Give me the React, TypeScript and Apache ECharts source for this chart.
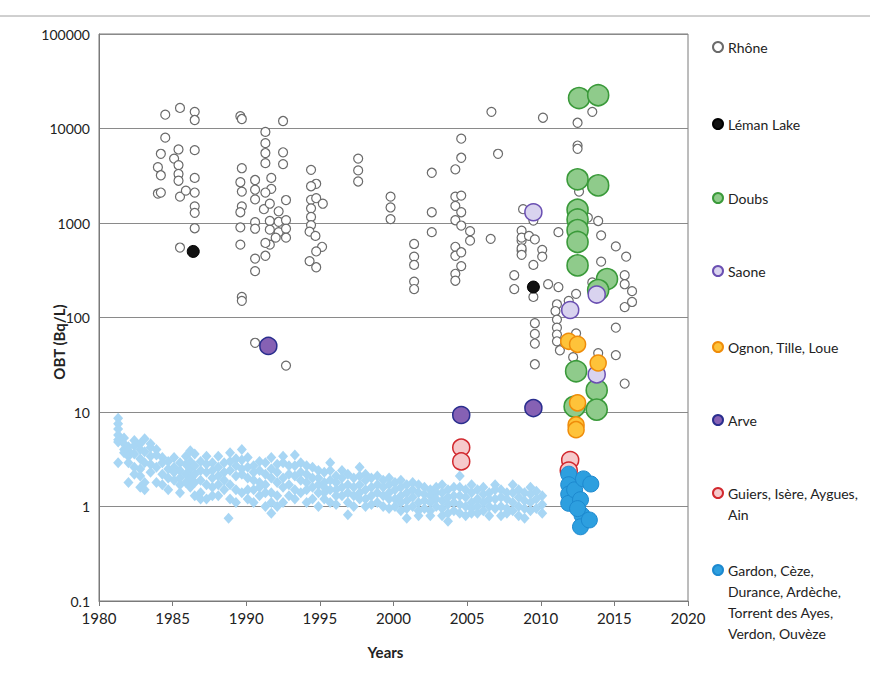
import React, { useEffect, useRef } from "react";
import * as echarts from "echarts";

// ---- Axis ticks ----
const xTicks = [1980, 1985, 1990, 1995, 2000, 2005, 2010, 2015, 2020];
const yTicks = [0.1, 1, 10, 100, 1000, 10000, 100000];

// ---- Series names (legend) ----
const seriesNames = [
  "Rhône",
  "Léman Lake",
  "Doubs",
  "Saone",
  "Ognon, Tille, Loue",
  "Arve",
  "Guiers, Isère, Aygues, Ain",
  "Gardon, Cèze, Durance, Ardèche, Torrent des Ayes, Verdon, Ouvèze",
];

// ---- Data: [year, OBT Bq/L] ----
const rhone: [number, number][] = [
  [1984.5, 14000], [1985.5, 16500], [1986.5, 15000], [1986.5, 12300], [1989.6, 13500], [1989.7, 12600], [1992.5, 12000],
  [1984.5, 8000], [1984.2, 5400], [1985.4, 6000], [1985.1, 4800], [1986.5, 5900], [1985.4, 4100], [1985.4, 3300],
  [1985.4, 2800], [1984.0, 3900], [1984.2, 3200], [1984.0, 2050], [1984.2, 2100], [1985.5, 1900], [1985.9, 2200],
  [1986.5, 3000], [1986.5, 2100], [1986.5, 1500], [1986.5, 1280], [1986.5, 880], [1985.5, 550],
  [1989.7, 3800], [1989.6, 2700], [1989.7, 2150], [1989.7, 1500], [1989.6, 1300], [1989.6, 900], [1989.6, 590],
  [1990.6, 2850], [1990.6, 2250], [1990.6, 1780], [1990.6, 1020], [1990.6, 870], [1990.6, 420], [1990.6, 310],
  [1991.3, 9200], [1991.3, 7000], [1991.3, 5500], [1991.3, 4300], [1991.7, 3000], [1991.7, 2300], [1991.3, 2100],
  [1991.2, 1400], [1991.6, 1600], [1991.6, 1050], [1991.6, 850], [1991.6, 590], [1991.3, 450], [1991.3, 615],
  [1992.5, 5600], [1992.5, 4200], [1992.7, 1750], [1992.2, 1330], [1992.2, 1030], [1992.2, 800], [1992.7, 1070],
  [1992.7, 870], [1992.7, 700], [1992.0, 700],
  [1994.4, 3650], [1994.75, 2600], [1994.4, 2450], [1994.4, 1760], [1994.75, 1830], [1995.2, 1600], [1994.4, 1430],
  [1994.4, 1160], [1994.4, 950], [1994.3, 810], [1994.7, 730], [1995.15, 560], [1994.75, 500], [1994.3, 395], [1994.75, 340],
  [1989.7, 165], [1989.7, 150], [1990.6, 54], [1992.7, 31],
  [2006.65, 15000], [2004.6, 7800], [2004.6, 4900], [2004.2, 3700], [2007.1, 5400],
  [1997.6, 4800], [1997.6, 3600], [1997.6, 2750], [2002.6, 3400],
  [1999.8, 1900], [1999.8, 1460], [1999.8, 1100], [2002.6, 1300], [2002.6, 800],
  [2004.2, 1900], [2004.6, 1950], [2004.2, 1520], [2004.6, 1300], [2004.2, 1070], [2004.6, 940],
  [2005.2, 820], [2005.2, 650], [2006.6, 680],
  [2001.4, 600], [2001.4, 440], [2001.4, 360], [2001.4, 240], [2001.4, 200],
  [2004.2, 560], [2004.2, 450], [2004.6, 490], [2004.6, 350], [2004.2, 290], [2004.2, 245],
  [2008.2, 280], [2008.2, 200], [2008.8, 1400], [2008.7, 830], [2008.7, 650], [2008.7, 510],
  [2009.5, 1060], [2008.7, 700], [2009.2, 730], [2009.6, 670], [2008.7, 540], [2008.7, 460], [2010.1, 520],
  [2010.1, 440], [2009.5, 360], [2010.5, 225], [2011.2, 210], [2009.5, 165], [2011.2, 800],
  [2012.4, 178], [2011.9, 150], [2011.1, 138], [2011.0, 117], [2011.1, 95], [2011.1, 78], [2011.1, 66], [2011.1, 56],
  [2012.4, 68], [2011.3, 45], [2009.6, 87], [2009.6, 67], [2009.6, 53], [2009.6, 32], [2012.2, 38], [2013.9, 42],
  [2013.9, 1050], [2013.2, 1140], [2014.1, 740], [2015.1, 565], [2015.8, 440], [2014.1, 390], [2015.7, 280], [2015.7, 225],
  [2016.2, 190], [2016.2, 146], [2015.7, 129], [2015.1, 78], [2015.1, 40], [2015.7, 20], [2013.5, 235], [2012.6, 2150],
  [2010.15, 13000], [2012.5, 11500], [2013.5, 15000], [2012.5, 6600], [2012.5, 6100],
];

const leman: [number, number][] = [[1986.4, 500], [2009.5, 210]];

const doubs: [number, number][] = [
  [2012.6, 21000], [2013.9, 22500], [2012.5, 2900], [2013.9, 2500], [2012.5, 1380], [2012.5, 1090], [2012.5, 840],
  [2012.5, 630], [2012.5, 356], [2014.5, 255], [2013.9, 195], [2012.4, 27], [2013.8, 17], [2013.8, 10.6], [2012.3, 11.4],
];

const saone: [number, number][] = [[2009.5, 1300], [2012.0, 120], [2013.8, 175], [2013.8, 25]];

const ognon: [number, number][] = [[2011.9, 56], [2012.5, 52], [2013.9, 33], [2012.5, 12.5], [2012.4, 7.3], [2012.4, 6.5]];

const arve: [number, number][] = [[1991.5, 50], [2004.6, 9.3], [2009.5, 11]];

const guiers: [number, number][] = [[2004.6, 4.2], [2004.6, 3.0], [2012.0, 3.1], [2011.9, 2.4]];

const gardon: [number, number][] = [
  [2011.9, 2.2], [2011.9, 1.7], [2011.9, 1.35], [2011.9, 1.08], [2012.3, 1.5], [2012.9, 1.96], [2013.4, 1.73],
  [2012.7, 1.18], [2012.8, 0.81], [2012.7, 0.61], [2013.3, 0.72], [2012.5, 0.95],
];

// Background (light blue diamonds, not in legend)
const background: [number, number][] = [
  [1981.3, 8.6], [1981.3, 7.5], [1981.3, 6.6], [1981.3, 5.7], [1981.3, 5.1], [1981.3, 4.8], [1981.3, 2.9],
  [1981.7, 5.3], [1981.7, 4.6], [1981.7, 4.0], [1981.7, 3.7],
  [1982.0, 4.3], [1982.0, 3.9], [1982.0, 3.4], [1982.0, 2.9], [1982.0, 1.8],
  [1982.4, 5.0], [1982.4, 4.4], [1982.4, 3.6], [1982.4, 2.6], [1982.4, 2.2],
  [1982.8, 4.6], [1982.8, 4.0], [1982.8, 3.2], [1982.8, 2.5], [1982.8, 2.1], [1982.8, 1.6],
  [1983.1, 5.2], [1983.1, 3.8], [1983.1, 2.9], [1983.1, 1.8], [1983.1, 1.5],
  [1983.5, 4.6], [1983.5, 4.2], [1983.5, 3.4], [1983.5, 2.8], [1983.5, 2.3],
  [1983.9, 4.0], [1983.9, 3.5], [1983.9, 2.6], [1983.9, 1.8],
  [1984.3, 3.3], [1984.3, 2.9], [1984.3, 2.2], [1984.3, 1.7],
  [1984.7, 3.0], [1984.7, 2.5], [1984.7, 2.0], [1984.7, 1.5],
  [1985.1, 3.3], [1985.1, 2.6], [1985.1, 2.3], [1985.1, 1.9],
  [1985.5, 2.9], [1985.5, 2.4], [1985.5, 2.0], [1985.5, 1.7], [1985.5, 1.4],
  [1985.9, 3.4], [1985.9, 2.8], [1985.9, 2.2], [1985.9, 1.8],
  [1986.2, 3.9], [1986.2, 3.0], [1986.2, 2.5], [1986.2, 2.0], [1986.2, 1.6],
  [1986.5, 3.6], [1986.5, 2.7], [1986.5, 2.2], [1986.5, 1.8], [1986.5, 1.3],
  [1986.9, 3.0], [1986.9, 2.4], [1986.9, 1.9], [1986.9, 1.4], [1986.9, 1.2],
  [1987.3, 3.4], [1987.3, 2.8], [1987.3, 2.3], [1987.3, 1.7], [1987.3, 1.2],
  [1987.7, 2.9], [1987.7, 2.4], [1987.7, 2.0], [1987.7, 1.6], [1987.7, 1.3],
  [1988.1, 3.4], [1988.1, 2.6], [1988.1, 2.1], [1988.1, 1.7], [1988.1, 1.3],
  [1988.5, 2.9], [1988.5, 2.3], [1988.5, 1.9], [1988.5, 1.5],
  [1988.9, 3.7], [1988.9, 3.0], [1988.9, 2.4], [1988.9, 1.7], [1988.9, 1.2], [1988.8, 0.75],
  [1989.3, 3.2], [1989.3, 2.7], [1989.3, 2.1], [1989.3, 1.5], [1989.3, 1.1],
  [1989.7, 4.0], [1989.7, 3.1], [1989.7, 2.5], [1989.7, 2.2], [1989.7, 1.4],
  [1990.1, 3.3], [1990.1, 2.6], [1990.1, 2.0], [1990.1, 1.5], [1990.1, 1.2],
  [1990.5, 2.7], [1990.5, 2.3], [1990.5, 1.9], [1990.5, 1.5], [1990.5, 1.1],
  [1990.9, 3.0], [1990.9, 2.4], [1990.9, 1.8], [1990.9, 1.6], [1990.9, 1.3],
  [1991.3, 2.9], [1991.3, 2.2], [1991.3, 1.7], [1991.3, 1.4], [1991.3, 1.0],
  [1991.7, 3.3], [1991.7, 2.5], [1991.7, 2.0], [1991.7, 1.4], [1991.7, 1.1], [1991.7, 0.85],
  [1992.1, 2.8], [1992.1, 2.3], [1992.1, 1.8], [1992.1, 1.3], [1992.1, 1.0],
  [1992.5, 3.4], [1992.5, 2.9], [1992.5, 2.0], [1992.5, 1.6], [1992.5, 1.1],
  [1992.9, 2.7], [1992.9, 2.2], [1992.9, 1.7], [1992.9, 1.3],
  [1993.3, 3.5], [1993.3, 2.7], [1993.3, 2.1], [1993.3, 1.5], [1993.3, 1.2],
  [1993.7, 2.9], [1993.7, 2.3], [1993.7, 1.9], [1993.7, 1.4],
  [1994.1, 2.7], [1994.1, 2.2], [1994.1, 1.8], [1994.1, 1.5], [1994.1, 1.1],
  [1994.5, 2.6], [1994.5, 2.0], [1994.5, 1.6], [1994.5, 1.2],
  [1994.9, 2.4], [1994.9, 2.0], [1994.9, 1.7], [1994.9, 1.4], [1994.9, 1.0],
  [1995.3, 2.3], [1995.3, 1.8], [1995.3, 1.6], [1995.3, 1.4], [1995.3, 1.2],
  [1995.7, 2.9], [1995.7, 2.4], [1995.7, 1.9], [1995.7, 1.5], [1995.7, 1.1],
  [1996.1, 2.1], [1996.1, 1.8], [1996.1, 1.5], [1996.1, 1.3], [1996.1, 1.05],
  [1996.5, 2.4], [1996.5, 2.0], [1996.5, 1.6], [1996.5, 1.3],
  [1996.9, 2.2], [1996.9, 1.7], [1996.9, 1.4], [1996.9, 1.1], [1996.9, 0.82],
  [1997.3, 2.0], [1997.3, 1.6], [1997.3, 1.3], [1997.3, 1.0],
  [1997.7, 2.6], [1997.7, 2.1], [1997.7, 1.7], [1997.7, 1.4], [1997.7, 1.2],
  [1998.1, 2.2], [1998.1, 1.9], [1998.1, 1.5], [1998.1, 1.2], [1998.1, 1.0],
  [1998.5, 2.0], [1998.5, 1.6], [1998.5, 1.3], [1998.5, 1.05],
  [1998.9, 2.1], [1998.9, 1.7], [1998.9, 1.4], [1998.9, 1.1],
  [1999.3, 1.9], [1999.3, 1.6], [1999.3, 1.3], [1999.3, 1.0],
  [1999.7, 2.0], [1999.7, 1.7], [1999.7, 1.4], [1999.7, 1.2], [1999.7, 0.95],
  [2000.1, 1.8], [2000.1, 1.5], [2000.1, 1.2], [2000.1, 1.0],
  [2000.5, 1.9], [2000.5, 1.6], [2000.5, 1.3], [2000.5, 1.1], [2000.5, 0.9],
  [2000.9, 1.7], [2000.9, 1.4], [2000.9, 1.15], [2000.9, 0.95], [2000.9, 0.75],
  [2001.3, 1.8], [2001.3, 1.5], [2001.3, 1.25], [2001.3, 1.0],
  [2001.7, 1.7], [2001.7, 1.4], [2001.7, 1.1], [2001.7, 0.9], [2001.7, 0.8],
  [2002.1, 1.6], [2002.1, 1.35], [2002.1, 1.15], [2002.1, 0.95],
  [2002.5, 1.5], [2002.5, 1.3], [2002.5, 1.1], [2002.5, 0.9], [2002.5, 0.8],
  [2002.9, 1.6], [2002.9, 1.4], [2002.9, 1.2], [2002.9, 1.0],
  [2003.3, 1.7], [2003.3, 1.4], [2003.3, 1.15], [2003.3, 0.95], [2003.3, 0.8],
  [2003.7, 1.5], [2003.7, 1.25], [2003.7, 1.05], [2003.7, 0.85], [2003.7, 0.7],
  [2004.1, 1.6], [2004.1, 1.3], [2004.1, 1.1], [2004.1, 0.9],
  [2004.5, 2.1], [2004.5, 1.6], [2004.5, 1.3], [2004.5, 1.05], [2004.5, 0.85],
  [2004.9, 1.5], [2004.9, 1.25], [2004.9, 1.0], [2004.9, 0.8],
  [2005.3, 1.7], [2005.3, 1.4], [2005.3, 1.1], [2005.3, 0.95], [2005.3, 0.85],
  [2005.7, 1.5], [2005.7, 1.2], [2005.7, 1.0], [2005.7, 0.85],
  [2006.1, 1.6], [2006.1, 1.35], [2006.1, 1.1], [2006.1, 0.9],
  [2006.5, 1.4], [2006.5, 1.2], [2006.5, 1.0], [2006.5, 0.8],
  [2006.9, 1.7], [2006.9, 1.5], [2006.9, 1.2], [2006.9, 0.95],
  [2007.3, 1.5], [2007.3, 1.25], [2007.3, 1.0], [2007.3, 0.8],
  [2007.7, 1.4], [2007.7, 1.2], [2007.7, 0.95], [2007.7, 0.85],
  [2008.1, 1.7], [2008.1, 1.4], [2008.1, 1.1], [2008.1, 0.9],
  [2008.5, 1.5], [2008.5, 1.25], [2008.5, 1.0], [2008.5, 0.8],
  [2008.9, 1.4], [2008.9, 1.15], [2008.9, 0.95], [2008.9, 0.75],
  [2009.3, 1.6], [2009.3, 1.35], [2009.3, 1.1], [2009.3, 0.9],
  [2009.7, 1.45], [2009.7, 1.2], [2009.7, 0.95],
  [2010.1, 1.3], [2010.1, 1.05], [2010.1, 0.85],
];

// Legend label lines and vertical position of the first line
const legendLines: string[][] = [
  ["Rhône"],
  ["Léman Lake"],
  ["Doubs"],
  ["Saone"],
  ["Ognon, Tille, Loue"],
  ["Arve"],
  ["Guiers, Isère, Aygues,", "Ain"],
  ["Gardon, Cèze,", "Durance, Ardèche,", "Torrent des Ayes,", "Verdon, Ouvèze"],
];
const legendFirstLineY = [47, 124, 198, 271, 347, 420, 493, 570];

const FONT = "Lato, 'Liberation Sans', sans-serif";
const LINE_H = 21;

export default function App() {
  const ref = useRef<HTMLDivElement>(null);

  useEffect(() => {
    if (!ref.current) return;
    const chart = echarts.init(ref.current, undefined, { renderer: "svg" });

    const styles = [
      { size: 9, color: "#ffffff", border: "#6a6a6a", bw: 1.2 },
      { size: 12, color: "#111111", border: "#000000", bw: 1 },
      { size: 21, color: "#8fcb8b", border: "#3a9a3a", bw: 1.6 },
      { size: 17, color: "#d9d3ef", border: "#6a4fb2", bw: 1.5 },
      { size: 16, color: "#fec33a", border: "#ef8c0a", bw: 1.5 },
      { size: 17, color: "#8661b4", border: "#2a2e8e", bw: 1.5 },
      { size: 17, color: "#f6c9cb", border: "#d2282e", bw: 1.5 },
      { size: 16, color: "#2d9fdf", border: "#1d89cf", bw: 1 },
    ];
    const datasets = [rhone, leman, doubs, saone, ognon, arve, guiers, gardon];

    const series: any[] = [
      {
        name: "Background",
        type: "scatter",
        symbol: "diamond",
        symbolSize: [10, 11],
        data: background,
        itemStyle: { color: "#a8d6f4", opacity: 1 },
        z: 1,
      },
      ...datasets.map((d, i) => ({
        name: seriesNames[i],
        type: "scatter",
        symbol: "circle",
        symbolSize: styles[i].size,
        data: d,
        itemStyle: {
          color: styles[i].color,
          borderColor: styles[i].border,
          borderWidth: styles[i].bw,
          opacity: 1,
        },
        z: 2 + i,
      })),
    ];

    const legends = seriesNames.map((name, i) => {
      const lines = legendLines[i];
      const pad = lines.length - 1;
      const padded = [...Array(pad).fill(""), ...lines];
      const totalH = padded.length * LINE_H;
      const centerY = legendFirstLineY[i];
      return {
        data: [name],
        orient: "vertical",
        left: 712,
        top: centerY - totalH / 2,
        padding: 0,
        itemWidth: 10,
        itemHeight: 10,
        icon: "circle",
        selectedMode: false,
        formatter: () => padded.join("\n"),
        textStyle: { fontFamily: FONT, fontSize: 14, color: "#222", lineHeight: LINE_H },
      };
    });

    chart.setOption({
      animation: false,
      backgroundColor: "#ffffff",
      textStyle: { fontFamily: FONT },
      grid: {
        left: 99,
        top: 34,
        width: 589,
        height: 567,
        show: true,
        borderColor: "#7a7a7a",
        borderWidth: 1,
        backgroundColor: "transparent",
      },
      xAxis: {
        type: "value",
        min: xTicks[0],
        max: xTicks[xTicks.length - 1],
        interval: xTicks[1] - xTicks[0],
        name: "Years",
        nameLocation: "middle",
        nameGap: 43,
        nameTextStyle: { fontFamily: FONT, fontSize: 15, fontWeight: "bold", color: "#222", padding: [0, 16, 0, 0] },
        axisLine: { show: true, lineStyle: { color: "#7a7a7a" } },
        axisTick: { show: true, length: 5, lineStyle: { color: "#7a7a7a" } },
        splitLine: { show: false },
        axisLabel: {
          fontFamily: FONT,
          fontSize: 15,
          color: "#222",
          margin: 9,
          formatter: (v: number) => String(Math.round(v)),
        },
      },
      yAxis: {
        type: "log",
        logBase: 10,
        min: yTicks[0],
        max: yTicks[yTicks.length - 1],
        axisLine: { show: true, lineStyle: { color: "#7a7a7a" } },
        axisTick: { show: false },
        minorTick: { show: false },
        splitLine: { show: true, lineStyle: { color: "#8a8a8a", width: 1 } },
        axisLabel: {
          fontFamily: FONT,
          fontSize: 14,
          color: "#222",
          margin: 9,
          formatter: (v: number) => (v < 1 ? v.toFixed(1) : String(Math.round(v))),
        },
      },
      legend: legends,
      graphic: [
        {
          type: "line",
          shape: { x1: 0, y1: 16, x2: 870, y2: 16 },
          style: { stroke: "#a0a0a0", lineWidth: 1 },
          silent: true,
        },
        {
          type: "text",
          x: 59,
          y: 342,
          rotation: Math.PI / 2,
          style: {
            text: "OBT (Bq/L)",
            fontFamily: FONT,
            fontSize: 15,
            fontWeight: "bold",
            fill: "#222",
            align: "center",
            verticalAlign: "middle",
          },
          silent: true,
        },
      ],
      series,
    });

    return () => chart.dispose();
  }, []);

  return (
    <div
      ref={ref}
      style={{ position: "absolute", left: 0, top: 0, width: 870, height: 675, background: "#fff" }}
    />
  );
}
